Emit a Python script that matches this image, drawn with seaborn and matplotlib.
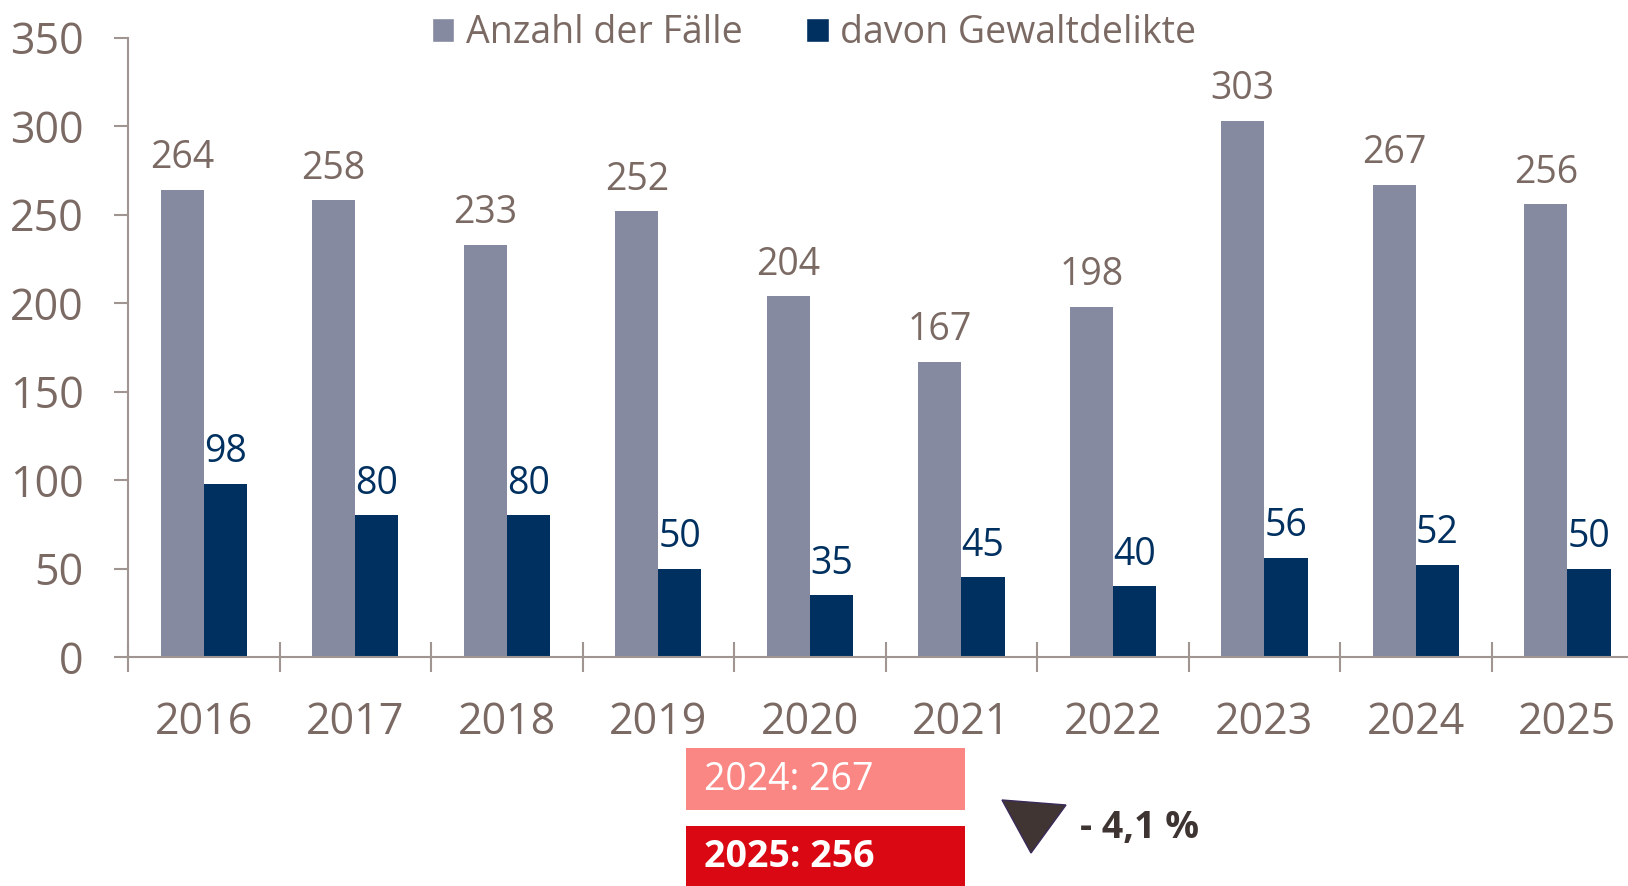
import pandas as pd
import numpy as np
import matplotlib.pyplot as plt
import seaborn as sns
from matplotlib.patches import Rectangle, Polygon, Patch

# data
years = ['2016', '2017', '2018', '2019', '2020', '2021', '2022', '2023', '2024', '2025']
faelle = [264, 258, 233, 252, 204, 167, 198, 303, 267, 256]
gewalt = [98, 80, 80, 50, 35, 45, 40, 56, 52, 50]
series = ['Anzahl der Fälle', 'davon Gewaltdelikte']
box_texts = ['2024: 267', '2025: 256']
change_text = '- 4,1 %'

df = pd.DataFrame({
    'Jahr': years * 2,
    'Wert': faelle + gewalt,
    'Reihe': [series[0]] * len(years) + [series[1]] * len(years),
})

grau = '#858aa0'
blau = '#00305f'
txt = '#7b6a64'
axcol = '#a09590'

sns.set_theme(style='white')
plt.rcParams['font.family'] = ['Open Sans', 'DejaVu Sans']

W, H = 1628, 886
fig = plt.figure(figsize=(W / 100, H / 100), dpi=100)
ax = fig.add_axes([128 / W, 1 - 657 / H, 1 - 128 / W, (657 - 37.7) / H])

sns.barplot(data=df, x='Jahr', y='Wert', hue='Reihe', palette=[grau, blau],
            width=0.57, saturation=1, linewidth=0, legend=False, ax=ax)

# value labels
for cont, col in zip(ax.containers, [txt, blau]):
    ax.bar_label(cont, padding=9, color=col, fontsize=27)

ax.set_yticks(range(0, 351, 50))
ax.set_xticks(np.arange(-0.5, 10, 1), minor=True)
ax.set_ylim(0, 350)
ax.set_xlim(-0.5, 9.4)
ax.set_xlabel('')
ax.set_ylabel('')

for s in ['top', 'right']:
    ax.spines[s].set_visible(False)
for s in ['left', 'bottom']:
    ax.spines[s].set_color(axcol)
    ax.spines[s].set_linewidth(1.5)

ax.tick_params(axis='y', direction='out', length=10, width=1.5, color=axcol,
               labelsize=31, labelcolor=txt, pad=22, left=True)
ax.tick_params(axis='x', which='major', length=0, labelsize=31, labelcolor=txt, pad=31)
ax.tick_params(axis='x', which='minor', direction='inout', length=21, width=1.5,
               color=axcol, bottom=True)

# legend
handles = [Patch(facecolor=grau), Patch(facecolor=blau)]
fig.legend(handles, series, loc='center', bbox_to_anchor=(0.5, 1 - 33 / H), ncol=2,
           frameon=False, fontsize=27, labelcolor=txt, handlelength=0.6,
           handleheight=0.6, handletextpad=0.3, columnspacing=1.7)

# comparison boxes
fig.patches.append(Rectangle((686 / W, 1 - 810 / H), (965 - 686) / W, 62 / H,
                             transform=fig.transFigure, facecolor='#fa8784', edgecolor='none'))
fig.patches.append(Rectangle((686 / W, 0), (965 - 686) / W, 60 / H,
                             transform=fig.transFigure, facecolor='#da0812', edgecolor='none'))
fig.text(704 / W, 1 - 780 / H, box_texts[0], color='white', fontsize=27, va='center', ha='left')
fig.text(704 / W, 1 - 857 / H, box_texts[1], color='white', fontsize=27, fontweight='bold',
         va='center', ha='left')

tri = Polygon([(1002 / W, 1 - 800 / H), (1066 / W, 1 - 805 / H), (1031 / W, 1 - 853 / H)],
              closed=True, transform=fig.transFigure, facecolor='#403533',
              edgecolor='#3a2a5a', linewidth=1)
fig.patches.append(tri)
fig.text(1080 / W, 1 - 828 / H, change_text, color='#3e3432', fontsize=27, fontweight='bold',
         va='center', ha='left')

fig.savefig('out.png', dpi=100)
